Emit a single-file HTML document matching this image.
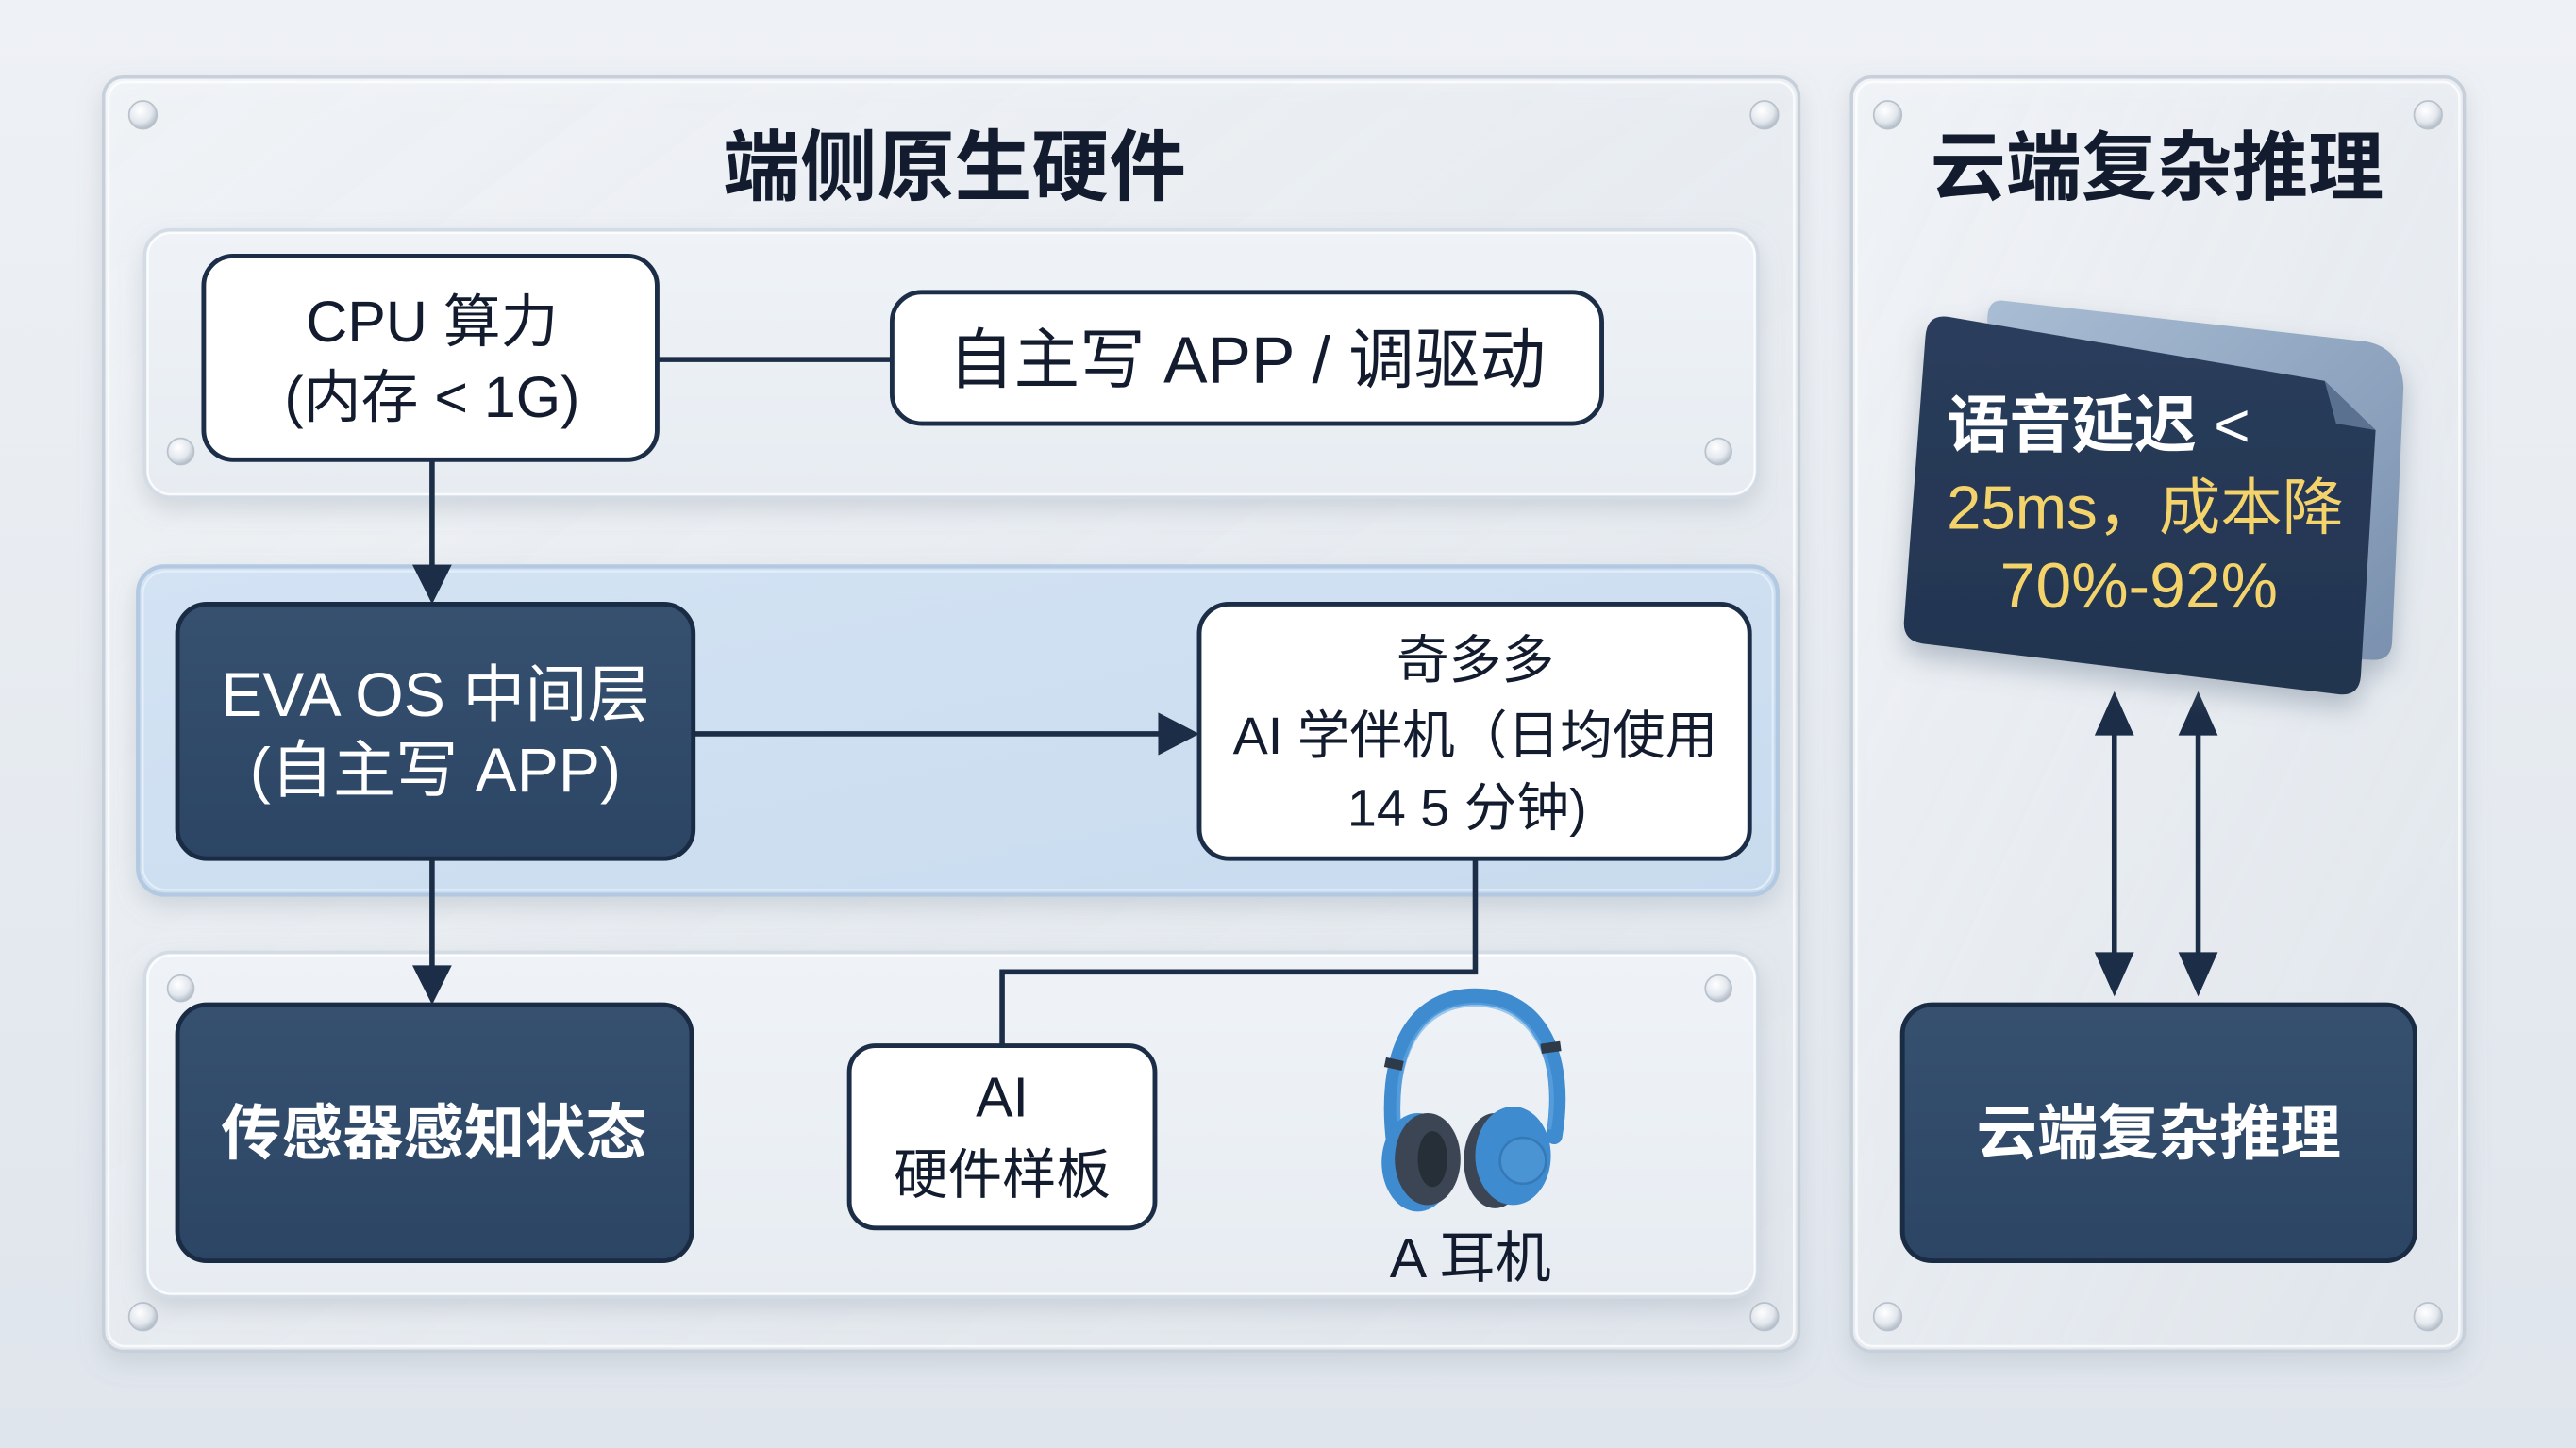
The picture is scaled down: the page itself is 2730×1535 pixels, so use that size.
<!DOCTYPE html>
<html><head><meta charset="utf-8">
<style>
html,body{margin:0;padding:0;width:2730px;height:1535px;overflow:hidden;background:#e7ecf1;}
svg{display:block;}
text{font-family:"Liberation Sans","Noto Sans CJK SC",sans-serif;}
</style></head>
<body>
<svg width="2730" height="1535" viewBox="0 0 1568 882" preserveAspectRatio="none" xmlns="http://www.w3.org/2000/svg">
<defs>
<linearGradient id="bg" x1="0" y1="0" x2="0" y2="1">
<stop offset="0" stop-color="#eef1f5"/><stop offset="1" stop-color="#dfe5ec"/>
</linearGradient>
<linearGradient id="glass" x1="0" y1="0" x2="1" y2="1">
<stop offset="0" stop-color="#f2f5f8" stop-opacity="0.9"/><stop offset="1" stop-color="#e4e9ef" stop-opacity="0.8"/>
</linearGradient>
<linearGradient id="inner" x1="0" y1="0" x2="0" y2="1">
<stop offset="0" stop-color="#eff3f7"/><stop offset="1" stop-color="#e7ecf2"/>
</linearGradient>
<linearGradient id="blueRow" x1="0" y1="0" x2="1" y2="1">
<stop offset="0" stop-color="#d3e3f4"/><stop offset="1" stop-color="#c8dbee"/>
</linearGradient>
<linearGradient id="navy" x1="0" y1="0" x2="0" y2="1">
<stop offset="0" stop-color="#36506f"/><stop offset="1" stop-color="#2c4565"/>
</linearGradient>
<linearGradient id="card" x1="0" y1="0" x2="0" y2="1">
<stop offset="0" stop-color="#2a3d5c"/><stop offset="1" stop-color="#22344f"/>
</linearGradient>
<linearGradient id="backcard" x1="0" y1="0" x2="1" y2="1">
<stop offset="0" stop-color="#a9bdd4"/><stop offset="1" stop-color="#7990ae"/>
</linearGradient>
<radialGradient id="screw" cx="0.4" cy="0.35" r="0.7">
<stop offset="0" stop-color="#ffffff"/><stop offset="0.6" stop-color="#e3e8ee"/><stop offset="1" stop-color="#aab4bf"/>
</radialGradient>
<filter id="sh" x="-10%" y="-10%" width="120%" height="125%">
<feDropShadow dx="0" dy="6" stdDeviation="7" flood-color="#8a97a6" flood-opacity="0.3"/>
</filter>
<filter id="sh2" x="-10%" y="-10%" width="120%" height="130%">
<feDropShadow dx="0" dy="8" stdDeviation="8" flood-color="#6f7f92" flood-opacity="0.45"/>
</filter>
</defs>

<rect x="0" y="0" width="1568" height="882" fill="url(#bg)"/>

<!-- Left big glass panel -->
<rect x="63" y="47" width="1032" height="776" rx="12" fill="url(#glass)" stroke="#c7d0da" stroke-width="2" filter="url(#sh)"/>
<rect x="66" y="50" width="1026" height="770" rx="10" fill="none" stroke="#ffffff" stroke-opacity="0.7" stroke-width="1.5"/>

<!-- Right big glass panel -->
<rect x="1127" y="47" width="373" height="776" rx="12" fill="url(#glass)" stroke="#c7d0da" stroke-width="2" filter="url(#sh)"/>
<rect x="1130" y="50" width="367" height="770" rx="10" fill="none" stroke="#ffffff" stroke-opacity="0.7" stroke-width="1.5"/>

<!-- Screws big panels -->
<g>
<circle cx="87" cy="70" r="8.5" fill="url(#screw)" stroke="#b9c2cc" stroke-width="1"/>
<circle cx="1074" cy="70" r="8.5" fill="url(#screw)" stroke="#b9c2cc" stroke-width="1"/>
<circle cx="87" cy="802" r="8.5" fill="url(#screw)" stroke="#b9c2cc" stroke-width="1"/>
<circle cx="1074" cy="802" r="8.5" fill="url(#screw)" stroke="#b9c2cc" stroke-width="1"/>
<circle cx="1149" cy="70" r="8.5" fill="url(#screw)" stroke="#b9c2cc" stroke-width="1"/>
<circle cx="1478" cy="70" r="8.5" fill="url(#screw)" stroke="#b9c2cc" stroke-width="1"/>
<circle cx="1149" cy="802" r="8.5" fill="url(#screw)" stroke="#b9c2cc" stroke-width="1"/>
<circle cx="1478" cy="802" r="8.5" fill="url(#screw)" stroke="#b9c2cc" stroke-width="1"/>
</g>

<!-- Titles -->
<text x="581" y="118" font-size="47" font-weight="bold" fill="#131c2e" text-anchor="middle">端侧原生硬件</text>
<text x="1313" y="118" font-size="46" font-weight="bold" fill="#131c2e" text-anchor="middle">云端复杂推理</text>

<!-- Row 1 inner panel -->
<rect x="88" y="140" width="982" height="163" rx="16" fill="url(#inner)" stroke="#d3dbe4" stroke-width="2" filter="url(#sh)"/>
<rect x="90" y="142" width="978" height="159" rx="14" fill="none" stroke="#ffffff" stroke-opacity="0.8" stroke-width="1.2"/>
<circle cx="110" cy="275" r="8" fill="url(#screw)" stroke="#b9c2cc" stroke-width="1"/>
<circle cx="1046" cy="275" r="8" fill="url(#screw)" stroke="#b9c2cc" stroke-width="1"/>

<!-- Row 2 blue panel -->
<rect x="84" y="345" width="998" height="200" rx="16" fill="url(#blueRow)" stroke="#b3c9e2" stroke-width="2.5" filter="url(#sh)"/>
<rect x="87" y="348" width="992" height="194" rx="14" fill="none" stroke="#e8f1fb" stroke-opacity="0.8" stroke-width="1.2"/>

<!-- Row 3 inner panel -->
<rect x="88" y="580" width="982" height="210" rx="16" fill="url(#inner)" stroke="#d3dbe4" stroke-width="2" filter="url(#sh)"/>
<rect x="90" y="582" width="978" height="206" rx="14" fill="none" stroke="#ffffff" stroke-opacity="0.8" stroke-width="1.2"/>
<circle cx="110" cy="602" r="8" fill="url(#screw)" stroke="#b9c2cc" stroke-width="1"/>
<circle cx="1046" cy="602" r="8" fill="url(#screw)" stroke="#b9c2cc" stroke-width="1"/>

<!-- Connectors -->
<g stroke="#1c2d47" stroke-width="3.2" fill="none">
<line x1="400" y1="219" x2="543" y2="219"/>
<line x1="263" y1="280" x2="263" y2="346"/>
<line x1="422" y1="447" x2="708" y2="447"/>
<line x1="263" y1="523" x2="263" y2="590"/>
<polyline points="898,523 898,592 610,592 610,637"/>
<line x1="1287" y1="444" x2="1287" y2="584"/>
<line x1="1338" y1="444" x2="1338" y2="584"/>
</g>
<g fill="#1c2d47">
<polygon points="251,344 275,344 263,368"/>
<polygon points="705,434 705,460 730,447"/>
<polygon points="251,588 275,588 263,612"/>
<polygon points="1287,421 1275,448 1299,448"/>
<polygon points="1338,421 1326,448 1350,448"/>
<polygon points="1287,607 1275,580 1299,580"/>
<polygon points="1338,607 1326,580 1350,580"/>
</g>

<!-- CPU box -->
<rect x="124" y="156" width="276" height="124" rx="18" fill="#ffffff" stroke="#1c2d47" stroke-width="2.8"/>
<text x="263" y="208" font-size="35" fill="#131c2e" text-anchor="middle">CPU 算力</text>
<text x="263" y="254" font-size="35" fill="#131c2e" text-anchor="middle">(内存 &lt; 1G)</text>

<!-- APP box -->
<rect x="543" y="178" width="432" height="80" rx="18" fill="#ffffff" stroke="#1c2d47" stroke-width="2.8"/>
<text x="759" y="233" font-size="40" fill="#131c2e" text-anchor="middle">自主写 APP / 调驱动</text>

<!-- EVA OS box -->
<rect x="108" y="368" width="314" height="155" rx="18" fill="url(#navy)" stroke="#1a2b44" stroke-width="2.8"/>
<text x="265" y="436" font-size="38" fill="#ffffff" text-anchor="middle">EVA OS 中间层</text>
<text x="265" y="482" font-size="38" fill="#ffffff" text-anchor="middle">(自主写 APP)</text>

<!-- 奇多多 box -->
<rect x="730" y="368" width="335" height="155" rx="18" fill="#ffffff" stroke="#1c2d47" stroke-width="2.8"/>
<text x="898" y="413" font-size="32" fill="#131c2e" text-anchor="middle">奇多多</text>
<text x="898" y="459" font-size="32" fill="#131c2e" text-anchor="middle">AI 学伴机（日均使用</text>
<text x="893" y="503" font-size="32" fill="#131c2e" text-anchor="middle">14 5 分钟)</text>

<!-- Sensor box -->
<rect x="108" y="612" width="313" height="156" rx="18" fill="url(#navy)" stroke="#1a2b44" stroke-width="2.8"/>
<text x="264" y="703" font-size="37" font-weight="bold" fill="#ffffff" text-anchor="middle">传感器感知状态</text>

<!-- AI hardware box -->
<rect x="517" y="637" width="186" height="111" rx="16" fill="#ffffff" stroke="#1c2d47" stroke-width="2.8"/>
<text x="610" y="680" font-size="34" fill="#131c2e" text-anchor="middle">AI</text>
<text x="610" y="727" font-size="33" fill="#131c2e" text-anchor="middle">硬件样板</text>

<!-- Headphones -->
<g>
<path d="M849 698 C 842 645, 858 607, 898 607 C 938 607, 954 645, 946 692" fill="none" stroke="#3f8bd0" stroke-width="10" stroke-linecap="round"/>
<path d="M852 690 C 847 648, 862 612, 898 612 C 934 612, 950 648, 943 688" fill="none" stroke="#62a8e4" stroke-width="2.5" stroke-opacity="0.6"/>
<rect x="843" y="645" width="11" height="6" fill="#2f3a48" transform="rotate(12 848 648)"/>
<rect x="938" y="635" width="12" height="6" fill="#2f3a48" transform="rotate(-8 944 638)"/>
<ellipse cx="863" cy="708" rx="22" ry="30" fill="#3f8bd0"/>
<ellipse cx="869" cy="706" rx="20" ry="28" fill="#3b4553"/>
<ellipse cx="872" cy="706" rx="9" ry="17" fill="#262e38"/>
<ellipse cx="910" cy="707" rx="19" ry="29" fill="#3b4553"/>
<ellipse cx="921" cy="704" rx="23" ry="30" fill="#3f8bd0"/>
<circle cx="927" cy="707" r="14" fill="#4a94d4" stroke="#357ab8" stroke-width="1.5"/>
</g>
<text x="895" y="778" font-size="34" fill="#131c2e" text-anchor="middle">A 耳机</text>

<!-- Callout card -->
<g filter="url(#sh2)">
<path d="M1218 183 L1440 208 Q1462 212 1463 236 L1456 392 Q1455 402 1445 402 L1400 400 L1210 200 Q1208 183 1218 183 Z" fill="url(#backcard)"/>
<path d="M1186 193 L1415 232 L1446 262 L1437 412 Q1436 424 1424 423 L1170 392 Q1158 390 1159 378 L1172 205 Q1173 191 1186 193 Z" fill="url(#card)"/>
<path d="M1415 232 L1446 262 L1422 258 Z" fill="#5a7190"/>
</g>
<text x="1185" y="272" font-size="38" font-weight="bold" fill="#ffffff">语音延迟 <tspan font-weight="normal">&lt;</tspan></text>
<text x="1185" y="322" font-size="37.5" fill="#f4d46a">25ms，成本降</text>
<text x="1302" y="370" font-size="39" fill="#f4d46a" text-anchor="middle">70%-92%</text>

<!-- Cloud box -->
<rect x="1158" y="612" width="312" height="156" rx="18" fill="url(#navy)" stroke="#1a2b44" stroke-width="2.8"/>
<text x="1314" y="703" font-size="37" font-weight="bold" fill="#ffffff" text-anchor="middle">云端复杂推理</text>
</svg>
</body></html>
